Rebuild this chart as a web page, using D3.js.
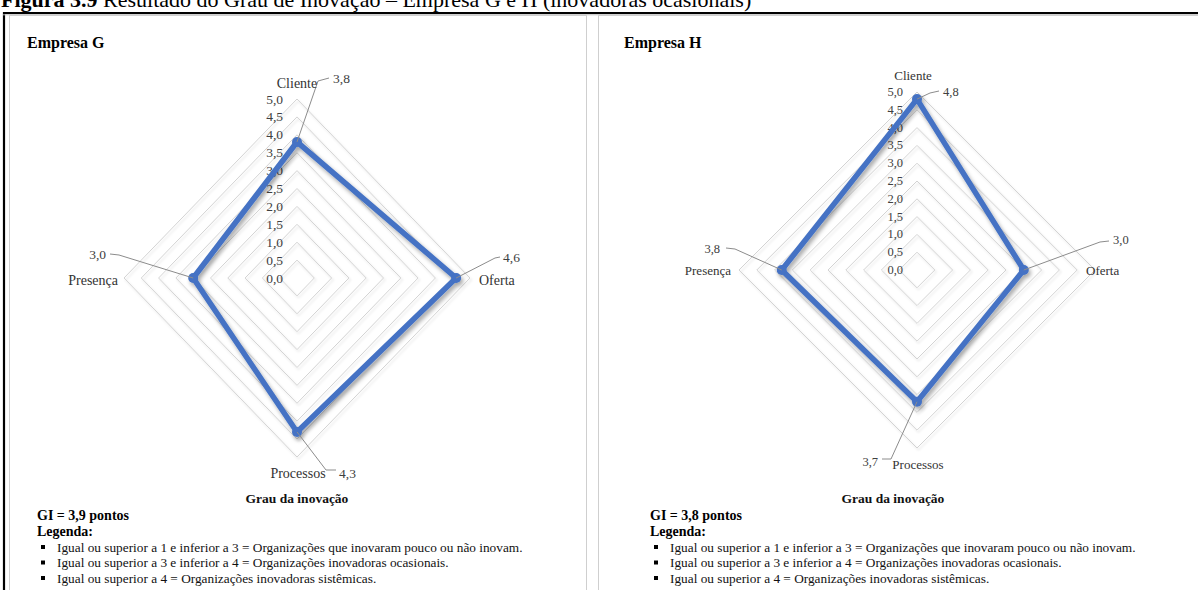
<!DOCTYPE html>
<html>
<head>
<meta charset="utf-8">
<script src="https://cdn.jsdelivr.net/npm/d3@7"></script>
<style>
  html, body { margin: 0; padding: 0; background: #fff; }
  svg { display: block; font-family: "Liberation Serif", "Times New Roman", serif; }
</style>
</head>
<body>
<svg id="fig" width="1198" height="590"></svg>
<script>
// Dimensions of the innovation radar
const categories = ["Cliente", "Oferta", "Processos", "Presença"];
// Scores per company (scale 0–5)
const valuesG = [3.8, 4.6, 4.3, 3.0];
const valuesH = [4.8, 3.0, 3.7, 3.8];
// Radial grid steps
const gridTicks = [0.5, 1.0, 1.5, 2.0, 2.5, 3.0, 3.5, 4.0, 4.5, 5.0];
const tickLabels = [0.0, 0.5, 1.0, 1.5, 2.0, 2.5, 3.0, 3.5, 4.0, 4.5, 5.0];
// Overall innovation degree
const giG = 3.9;
const giH = 3.8;
const legendItems = [
  "Igual ou superior a 1 e inferior a 3 = Organizações que inovaram pouco ou não inovam.",
  "Igual ou superior a 3 e inferior a 4 = Organizações inovadoras ocasionais.",
  "Igual ou superior a 4 = Organizações inovadoras sistêmicas."
];

const fmt = v => d3.format(".1f")(v).replace(".", ",");
const svg = d3.select("#fig");

// Shadows for the series line and the grid
const defs = svg.append("defs");
const f = defs.append("filter").attr("id", "shadow").attr("x", "-20%").attr("y", "-20%").attr("width", "140%").attr("height", "140%");
f.append("feDropShadow").attr("dx", 2).attr("dy", 3).attr("stdDeviation", 2)
  .attr("flood-color", "#000").attr("flood-opacity", 0.35);
const fr = defs.append("filter").attr("id", "ringshadow").attr("x", "-10%").attr("y", "-10%").attr("width", "120%").attr("height", "120%");
fr.append("feDropShadow").attr("dx", 1.5).attr("dy", 2).attr("stdDeviation", 1)
  .attr("flood-color", "#000").attr("flood-opacity", 0.14);

// Figure caption (partly above the page edge)
const cap = svg.append("text").attr("x", 1).attr("y", 7).attr("font-size", 22).attr("fill", "#000");
cap.append("tspan").attr("font-weight", "bold").text("Figura 3.9");
cap.append("tspan").text(" Resultado do Grau de Inovação – Empresa G e H (inovadoras ocasionais)");

// Outer frame
svg.append("line").attr("x1", 3).attr("x2", 1198).attr("y1", 13).attr("y2", 13).attr("stroke", "#000").attr("stroke-width", 2.2);
svg.append("line").attr("x1", 4).attr("x2", 4).attr("y1", 12).attr("y2", 590).attr("stroke", "#000").attr("stroke-width", 2.2);
svg.append("line").attr("x1", 3).attr("x2", 1198).attr("y1", 14.8).attr("y2", 14.8).attr("stroke", "#bbb").attr("stroke-width", 1);

// Panels
svg.append("rect").attr("x", 9.5).attr("y", 15.5).attr("width", 577).attr("height", 600)
  .attr("fill", "none").attr("stroke", "#cfcfcf").attr("stroke-width", 1);
svg.append("rect").attr("x", 598.5).attr("y", 15.5).attr("width", 620).attr("height", 600)
  .attr("fill", "none").attr("stroke", "#cfcfcf").attr("stroke-width", 1);

const panels = [
  {
    title: "Empresa G", titleX: 27, values: valuesG, gi: giG,
    cx: 297, cy: 278, rx: 173, ry: 179, fs: 14,
    cat: [
      { x: 297, y: 83, a: "middle" },
      { x: 479, y: 280, a: "start" },
      { x: 298, y: 473, a: "middle" },
      { x: 118, y: 280, a: "end" }
    ],
    val: [
      { x: 333, y: 78, a: "start", path: [[318, 81], [329, 78]] },
      { x: 503, y: 257, a: "start", path: [[495, 258], [500, 257]] },
      { x: 339, y: 473, a: "start", path: [[326, 470], [336, 470]] },
      { x: 106, y: 254, a: "end", path: [[119, 255], [110, 254]] }
    ],
    grauX: 297, legendX: 37
  },
  {
    title: "Empresa H", titleX: 624, values: valuesH, gi: giH,
    cx: 917, cy: 270, rx: 178, ry: 178, fs: 13,
    cat: [
      { x: 913, y: 75, a: "middle" },
      { x: 1086, y: 270, a: "start" },
      { x: 918, y: 464, a: "middle" },
      { x: 731, y: 270, a: "end" }
    ],
    val: [
      { x: 943, y: 92, a: "start", path: [[930, 93], [939, 91]] },
      { x: 1113, y: 240, a: "start", path: [[1100, 242], [1109, 241]] },
      { x: 878, y: 462, a: "end", path: [[891, 459], [882, 459]] },
      { x: 720, y: 249, a: "end", path: [[735, 249], [726, 248]] }
    ],
    grauX: 893, legendX: 650
  }
];

panels.forEach(p => {
  const g = svg.append("g");
  g.append("text").attr("x", p.titleX).attr("y", 48).attr("font-size", 16).attr("font-weight", "bold")
    .attr("fill", "#000").text(p.title);

  const sx = d3.scaleLinear().domain([0, 5]).range([0, p.rx]);
  const sy = d3.scaleLinear().domain([0, 5]).range([0, p.ry]);
  const angle = d3.scalePoint().domain(categories).range([0, 2 * Math.PI * 3 / 4]);
  const pt = (cat, v) => {
    const a = angle(cat);
    return [p.cx + sx(v) * Math.sin(a), p.cy - sy(v) * Math.cos(a)];
  };
  const closed = d3.line().curve(d3.curveLinearClosed);

  // Grid rings
  g.append("g").attr("filter", "url(#ringshadow)").selectAll("path").data(gridTicks).join("path")
    .attr("d", t => closed(categories.map(c => pt(c, t))))
    .attr("fill", "none").attr("stroke", "#d3d3d3").attr("stroke-width", 1);

  // Radial tick labels
  g.append("g").selectAll("text").data(tickLabels).join("text")
    .attr("x", p.cx - 14).attr("y", t => p.cy - sy(t))
    .attr("text-anchor", "end").attr("dominant-baseline", "central")
    .attr("font-size", p.fs - 0.5).attr("fill", "#404040").text(fmt);

  // Series
  const pts = categories.map((c, i) => pt(c, p.values[i]));
  const series = g.append("g").attr("filter", "url(#shadow)");
  series.append("path").attr("d", closed(pts)).attr("fill", "none")
    .attr("stroke", "#4472C4").attr("stroke-width", 5.5).attr("stroke-linejoin", "round");
  series.selectAll("circle").data(pts).join("circle")
    .attr("cx", d => d[0]).attr("cy", d => d[1]).attr("r", 5).attr("fill", "#4472C4");

  // Leader lines from each point to its value label
  g.append("g").selectAll("path").data(p.val).join("path")
    .attr("d", (v, i) => d3.line()([pts[i]].concat(v.path)))
    .attr("fill", "none").attr("stroke", "#8c8c8c").attr("stroke-width", 1);

  g.append("g").selectAll("text").data(p.val).join("text")
    .attr("x", v => v.x).attr("y", v => v.y).attr("text-anchor", v => v.a)
    .attr("dominant-baseline", "central").attr("font-size", p.fs - 0.5).attr("fill", "#404040")
    .text((v, i) => fmt(p.values[i]));

  // Category labels
  g.append("g").selectAll("text").data(p.cat).join("text")
    .attr("x", c => c.x).attr("y", c => c.y).attr("text-anchor", c => c.a)
    .attr("dominant-baseline", "central").attr("font-size", p.fs).attr("fill", "#333")
    .text((c, i) => categories[i]);

  // Chart title and legend block
  g.append("text").attr("x", p.grauX).attr("y", 498).attr("text-anchor", "middle")
    .attr("dominant-baseline", "central").attr("font-size", 13.5).attr("font-weight", "bold")
    .attr("fill", "#111").text("Grau da inovação");
  g.append("text").attr("x", p.legendX).attr("y", 515).attr("dominant-baseline", "central")
    .attr("font-size", 14).attr("font-weight", "bold").attr("fill", "#000")
    .text("GI = " + fmt(p.gi) + " pontos");
  g.append("text").attr("x", p.legendX).attr("y", 531).attr("dominant-baseline", "central")
    .attr("font-size", 14).attr("font-weight", "bold").attr("fill", "#000").text("Legenda:");
  const li = g.append("g").selectAll("g").data(legendItems).join("g")
    .attr("transform", (d, i) => `translate(${p.legendX + 6},${547 + i * 15.5})`);
  li.append("rect").attr("x", -2).attr("y", -2).attr("width", 4).attr("height", 4).attr("fill", "#000");
  li.append("text").attr("x", 14).attr("y", 0).attr("dominant-baseline", "central")
    .attr("font-size", 13.3).attr("fill", "#111").text(d => d);
});
</script>
</body>
</html>
